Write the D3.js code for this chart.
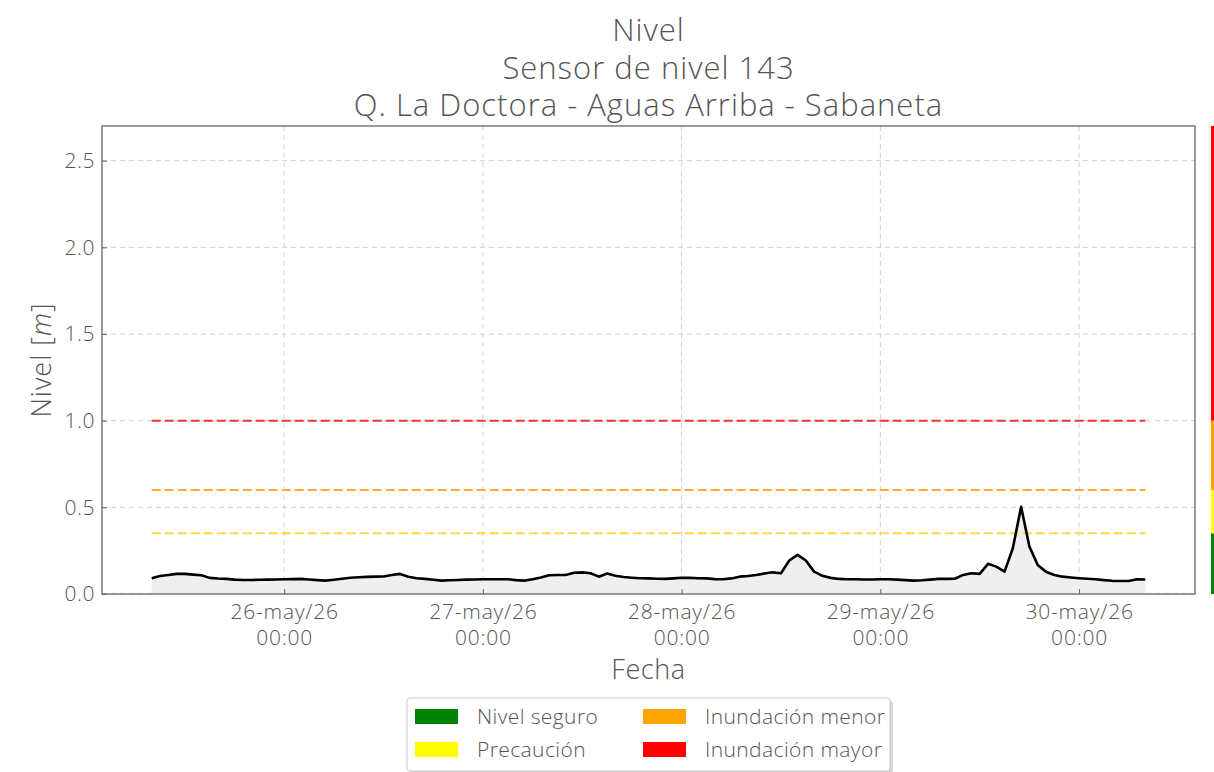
<!DOCTYPE html>
<html>
<head>
<meta charset="utf-8">
<script src="https://cdn.jsdelivr.net/npm/d3@7"></script>
<style>
  body { margin: 0; background: #fff; }
  text { font-family: "Open Sans", Lato, sans-serif; font-weight: 300; fill: #555; }
</style>
</head>
<body>
<div id="chart"></div>
<script>
// chart data
let titleLines = ["Nivel", "Sensor de nivel 143", "Q. La Doctora - Aguas Arriba - Sabaneta"]
let startTime = new Date(2026, 4, 25, 8, 0)   // first reading, hourly after that
let nivel = [
  0.091, 0.104, 0.110, 0.116, 0.116, 0.112, 0.108, 0.093, 0.089, 0.087,
  0.083, 0.081, 0.081, 0.082, 0.083, 0.084, 0.085, 0.086, 0.087, 0.084,
  0.080, 0.077, 0.082, 0.088, 0.094, 0.097, 0.099, 0.100, 0.101, 0.110,
  0.116, 0.100, 0.091, 0.087, 0.082, 0.077, 0.079, 0.081, 0.083, 0.084,
  0.085, 0.085, 0.085, 0.085, 0.080, 0.077, 0.085, 0.095, 0.108, 0.110,
  0.110, 0.123, 0.125, 0.120, 0.100, 0.118, 0.105, 0.098, 0.094, 0.091,
  0.090, 0.088, 0.087, 0.090, 0.094, 0.093, 0.091, 0.090, 0.086, 0.085,
  0.090, 0.100, 0.104, 0.110, 0.118, 0.125, 0.120, 0.193, 0.226, 0.193,
  0.129, 0.105, 0.093, 0.087, 0.085, 0.085, 0.084, 0.084, 0.085, 0.085,
  0.083, 0.080, 0.077, 0.079, 0.083, 0.087, 0.087, 0.088, 0.110, 0.120,
  0.116, 0.174, 0.158, 0.129, 0.264, 0.503, 0.274, 0.168, 0.128, 0.110,
  0.100, 0.095, 0.091, 0.088, 0.085, 0.080, 0.076, 0.075, 0.075, 0.085,
  0.084
]
let umbralNames = ["Nivel seguro", "Precaución", "Inundación menor", "Inundación mayor"]
let umbralValues = [0, 0.35, 0.6, 1.0]
let umbralColors = ["#008000", "#ffff00", "#ffa500", "#ff0000"]
let umbralLineColors = [null, "#ffd740", "#ffaa33", "#ee3333"]
let yTicks = [0, 0.5, 1.0, 1.5, 2.0, 2.5]
let yMax = 2.7

let width = 1214
    height = 772
    margin = {top: 126, right: 19, bottom: 178, left: 102}

let parsed = nivel.map(function(v, i) {
  return {t: d3.timeHour.offset(startTime, i), v: v}
})

let svg = d3.select("#chart")
  .append("svg")
    .attr("width", width)
    .attr("height", height)

let innerW = width - margin.left - margin.right
    innerH = height - margin.top - margin.bottom

// 5% padding on the time axis like matplotlib
let tExtent = d3.extent(parsed, function(d) { return d.t })
let pad = (tExtent[1] - tExtent[0]) * 0.05
let x = d3.scaleTime()
  .domain([new Date(+tExtent[0] - pad), new Date(+tExtent[1] + pad)])
  .range([margin.left, margin.left + innerW])

let y = d3.scaleLinear()
  .domain([0, yMax])
  .range([margin.top + innerH, margin.top])

let xTicks = d3.timeDay.range(d3.timeDay.ceil(x.domain()[0]), x.domain()[1])

// grid
svg.append("g")
  .selectAll("line.gy")
  .data(yTicks)
  .enter()
  .append("line")
    .attr("x1", margin.left)
    .attr("x2", margin.left + innerW)
    .attr("y1", function(d) { return y(d) })
    .attr("y2", function(d) { return y(d) })
    .attr("stroke", "#d0d0d0")
    .attr("stroke-width", 1)
    .attr("stroke-dasharray", "5,4")

svg.append("g")
  .selectAll("line.gx")
  .data(xTicks)
  .enter()
  .append("line")
    .attr("x1", function(d) { return x(d) })
    .attr("x2", function(d) { return x(d) })
    .attr("y1", margin.top)
    .attr("y2", margin.top + innerH)
    .attr("stroke", "#d0d0d0")
    .attr("stroke-width", 1)
    .attr("stroke-dasharray", "5,4")

// filled area and line
let area = d3.area()
  .x(function(d) { return x(d.t) })
  .y0(y(0))
  .y1(function(d) { return y(d.v) })

let line = d3.line()
  .x(function(d) { return x(d.t) })
  .y(function(d) { return y(d.v) })

svg.append("path")
  .datum(parsed)
  .attr("d", area)
  .attr("fill", "#efefef")

// threshold lines
svg.append("g")
  .selectAll("line")
  .data(umbralValues.slice(1))
  .enter()
  .append("line")
    .attr("x1", x(tExtent[0]))
    .attr("x2", x(tExtent[1]))
    .attr("y1", function(d) { return y(d) })
    .attr("y2", function(d) { return y(d) })
    .attr("stroke", function(d, i) { return umbralLineColors[i + 1] })
    .attr("stroke-width", 2)
    .attr("stroke-dasharray", "9,4")

svg.append("path")
  .datum(parsed)
  .attr("d", line)
  .attr("fill", "none")
  .attr("stroke", "#000")
  .attr("stroke-width", 2.6)
  .attr("stroke-linejoin", "round")

// frame
svg.append("rect")
  .attr("x", margin.left)
  .attr("y", margin.top)
  .attr("width", innerW)
  .attr("height", innerH)
  .attr("fill", "none")
  .attr("stroke", "#666")
  .attr("stroke-width", 1.3)

// axes
let yAxis = svg.append("g")
  .attr("transform", "translate(" + margin.left + ",0)")
  .call(d3.axisLeft(y).tickValues(yTicks).tickFormat(d3.format(".1f")).tickSizeInner(-5).tickSizeOuter(0).tickPadding(7))
yAxis.select(".domain").remove()
yAxis.selectAll(".tick line").attr("stroke", "#666")
yAxis.selectAll("text")
  .style("font-size", "21px")
  .style("letter-spacing", "0.5px")
  .attr("fill", "#555")
  .style("font-family", "'Open Sans', Lato, sans-serif")
  .style("font-weight", 300)

let fmtDay = d3.timeFormat("%d")
let xAxis = svg.append("g")
  .attr("transform", "translate(0," + (margin.top + innerH) + ")")
  .call(d3.axisBottom(x).tickValues(xTicks).tickFormat("").tickSizeInner(-5).tickSizeOuter(0))
xAxis.select(".domain").remove()
xAxis.selectAll(".tick line").attr("stroke", "#666")

let xl = xAxis.selectAll(".tick")
  .append("text")
    .attr("text-anchor", "middle")
    .attr("fill", "#555")
    .style("font-size", "21px")
    .style("letter-spacing", "0.8px")
    .style("font-family", "'Open Sans', Lato, sans-serif")
    .style("font-weight", 300)
xl.append("tspan")
  .attr("x", 0)
  .attr("y", 25)
  .text(function(d) { return fmtDay(d) + "-may/26" })
xl.append("tspan")
  .attr("x", 0)
  .attr("y", 51)
  .text("00:00")

// axis titles
svg.append("text")
  .attr("x", margin.left + innerW / 2)
  .attr("y", 679)
  .attr("text-anchor", "middle")
  .style("font-size", "27px")
  .style("letter-spacing", "0.6px")
  .text("Fecha")

svg.append("text")
  .attr("transform", "translate(51," + (margin.top + innerH / 2) + ") rotate(-90)")
  .attr("text-anchor", "middle")
  .style("font-size", "27px")
  .style("letter-spacing", "1px")
  .html("Nivel [<tspan font-style='italic'>m</tspan>]")

// title
svg.append("g")
  .selectAll("text")
  .data(titleLines)
  .enter()
  .append("text")
    .attr("x", margin.left + innerW / 2)
    .attr("y", function(d, i) { return 41 + i * 37.5 })
    .attr("text-anchor", "middle")
    .style("font-size", "31px")
    .style("letter-spacing", "1px")
    .text(function(d) { return d })

// colour bar on the right edge
let bands = umbralValues.map(function(v, i) {
  return {lo: v, hi: i < umbralValues.length - 1 ? umbralValues[i + 1] : yMax, c: umbralColors[i]}
})
svg.append("g")
  .selectAll("rect")
  .data(bands)
  .enter()
  .append("rect")
    .attr("x", 1211)
    .attr("width", 3)
    .attr("y", function(d) { return y(d.hi) })
    .attr("height", function(d) { return y(d.lo) - y(d.hi) })
    .attr("fill", function(d) { return d.c })

// legend
let lg = svg.append("g").attr("transform", "translate(407,698)")
lg.append("rect")
  .attr("x", 3).attr("y", 3)
  .attr("width", 483).attr("height", 73)
  .attr("rx", 3)
  .attr("fill", "#bbb")
  .attr("opacity", 0.6)
lg.append("rect")
  .attr("width", 483).attr("height", 73)
  .attr("rx", 3)
  .attr("fill", "#fff")
  .attr("stroke", "#ccc")

let items = lg.selectAll("g.item")
  .data(umbralNames)
  .enter()
  .append("g")
    .attr("transform", function(d, i) {
      return "translate(" + (8 + Math.floor(i / 2) * 228) + "," + (11 + (i % 2) * 33) + ")"
    })
items.append("rect")
  .attr("width", 43)
  .attr("height", 15)
  .attr("fill", function(d, i) { return umbralColors[i] })
items.append("text")
  .attr("x", 62)
  .attr("y", 15)
  .style("font-size", "21px")
  .style("letter-spacing", "0.4px")
  .text(function(d) { return d })
</script>
</body>
</html>
